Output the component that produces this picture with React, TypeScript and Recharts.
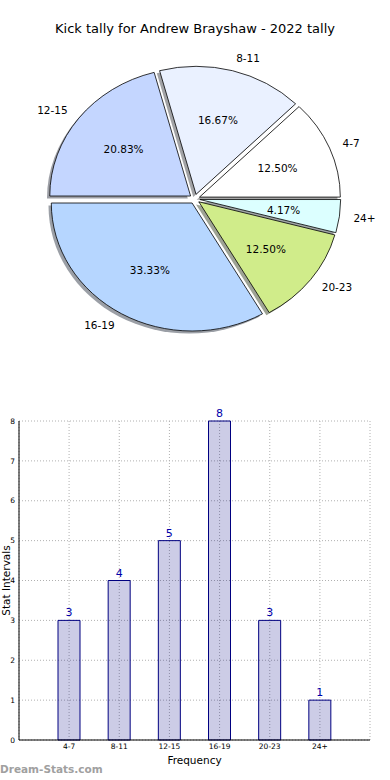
import { PieChart, Pie, Cell, BarChart, Bar, XAxis, YAxis, CartesianGrid, LabelList } from "recharts";

const categories = ["4-7", "8-11", "12-15", "16-19", "20-23", "24+"];
const kicks = [3, 4, 5, 8, 3, 1];
const sliceColors = ["#ffffff", "#eaf1ff", "#c4d6ff", "#b6d6ff", "#d0ec8a", "#dcffff"];
const yTicks = [0, 1, 2, 3, 4, 5, 6, 7, 8];

const data = categories.map((label, i) => ({ label, value: kicks[i] }));

const FONT = "DejaVu Sans, sans-serif";
const STRETCH = 1.1; // pie is drawn as an ellipse (axes not equal)
const EXPLODE = 0.037;
const RAD = Math.PI / 180;

function darken(hex: string, k: number) {
  const n = parseInt(hex.slice(1), 16);
  const r = Math.round(((n >> 16) & 255) * k);
  const g = Math.round(((n >> 8) & 255) * k);
  const b = Math.round((n & 255) * k);
  return `rgb(${r},${g},${b})`;
}

function wedgePath(p: any, dx = 0, dy = 0) {
  const { cx, cy, outerRadius, startAngle, endAngle } = p;
  const mid = (startAngle + endAngle) / 2;
  const rx = outerRadius * STRETCH;
  const ry = outerRadius;
  const e = EXPLODE * outerRadius;
  const ox = cx + e * STRETCH * Math.cos(mid * RAD) + dx;
  const oy = cy - e * Math.sin(mid * RAD) + dy;
  const x1 = ox + rx * Math.cos(startAngle * RAD);
  const y1 = oy - ry * Math.sin(startAngle * RAD);
  const x2 = ox + rx * Math.cos(endAngle * RAD);
  const y2 = oy - ry * Math.sin(endAngle * RAD);
  const large = Math.abs(endAngle - startAngle) > 180 ? 1 : 0;
  return `M${ox},${oy} L${x1},${y1} A${rx},${ry} 0 ${large} 0 ${x2},${y2} Z`;
}

const Wedge = (p: any) => <path d={wedgePath(p)} fill={p.fill} stroke="#000" strokeWidth={0.8} />;

const ShadowWedge = (p: any) => (
  <path d={wedgePath(p, -2.8, 2.6)} fill={darken(sliceColors[p.index] || p.fill, 0.3)} fillOpacity={0.5} stroke="none" />
);

const pieLabel = (p: any) => {
  const { cx, cy, midAngle, outerRadius, percent, index } = p;
  const e = EXPLODE * outerRadius;
  const c = Math.cos(midAngle * RAD);
  const s = Math.sin(midAngle * RAD);
  const ox = cx + e * STRETCH * c;
  const oy = cy - e * s;
  const lx = ox + 1.1 * outerRadius * STRETCH * c;
  const ly = oy - 1.1 * outerRadius * s;
  const px = ox + 0.6 * outerRadius * STRETCH * c;
  const py = oy - 0.6 * outerRadius * s;
  return (
    <g>
      <text x={lx} y={ly} textAnchor={c > 0 ? "start" : "end"} dominantBaseline="central" fontSize={10.5} fontFamily={FONT} fill="#000">
        {categories[index]}
      </text>
      <text x={px} y={py} textAnchor="middle" dominantBaseline="central" fontSize={10.5} fontFamily={FONT} fill="#000">
        {(percent * 100).toFixed(2)}%
      </text>
    </g>
  );
};

export default function App() {
  return (
    <div style={{ position: "absolute", left: 0, top: 0, width: 390, height: 780, background: "#fff", fontFamily: FONT }}>
      <div style={{ position: "absolute", left: 0, top: 21, width: 390, textAlign: "center", fontSize: 13, color: "#000" }}>
        Kick tally for Andrew Brayshaw - 2022 tally
      </div>

      <div style={{ position: "absolute", left: 0, top: 0 }}>
        <PieChart width={390} height={380} margin={{ top: 0, right: 0, bottom: 0, left: 0 }}>
          <Pie
            data={data}
            dataKey="value"
            nameKey="label"
            cx={194.7}
            cy={198.9}
            outerRadius={128}
            startAngle={0}
            endAngle={360}
            shape={ShadowWedge}
            isAnimationActive={false}
            stroke="none"
          >
            {data.map((d, i) => (
              <Cell key={d.label} fill={sliceColors[i]} />
            ))}
          </Pie>
          <Pie
            data={data}
            dataKey="value"
            nameKey="label"
            cx={194.7}
            cy={198.9}
            outerRadius={128}
            startAngle={0}
            endAngle={360}
            shape={Wedge}
            label={pieLabel}
            labelLine={false}
            isAnimationActive={false}
          >
            {data.map((d, i) => (
              <Cell key={d.label} fill={sliceColors[i]} />
            ))}
          </Pie>
        </PieChart>
      </div>

      <div style={{ position: "absolute", left: 0, top: 400 }}>
        <BarChart width={390} height={380} data={data} margin={{ top: 21, right: 20, bottom: 0, left: 0 }}>
          <CartesianGrid stroke="#b0b0b0" strokeDasharray="1 2" />
          <XAxis
            dataKey="label"
            padding={{ left: 25, right: 25 }}
            height={40}
            tickLine={false}
            tickSize={0}
            tickMargin={4}
            axisLine={{ stroke: "#000" }}
            tick={{ fontSize: 7.5, fontFamily: FONT, fill: "#000" }}
            interval={0}
            label={{
              content: (lp: any) => {
                const vb = lp.viewBox;
                return (
                  <text x={vb.x + vb.width / 2} y={vb.y + 20} textAnchor="middle" dominantBaseline="central" fontSize={10.5} fontFamily={FONT} fill="#000">
                    Frequency
                  </text>
                );
              },
            }}
          />
          <XAxis xAxisId="top" orientation="top" dataKey="label" height={0} tick={false} tickLine={false} axisLine={{ stroke: "#000" }} />
          <YAxis
            domain={[0, 8]}
            ticks={yTicks}
            width={19}
            tickLine={false}
            tickSize={0}
            tickMargin={4}
            axisLine={{ stroke: "#000" }}
            tick={{ fontSize: 7.5, fontFamily: FONT, fill: "#000" }}
            label={{
              content: (lp: any) => {
                const vb = lp.viewBox;
                const x = 6;
                const y = vb.y + vb.height / 2;
                return (
                  <text x={x} y={y} transform={`rotate(-90 ${x} ${y})`} textAnchor="middle" dominantBaseline="central" fontSize={10.5} fontFamily={FONT} fill="#000">
                    Stat Intervals
                  </text>
                );
              },
            }}
          />
          <YAxis yAxisId="right" orientation="right" domain={[0, 8]} width={0} tick={false} tickLine={false} axisLine={{ stroke: "#000" }} />
          <Bar dataKey="value" barSize={22} fill="#000080" fillOpacity={0.2} stroke="#000080" strokeWidth={1} isAnimationActive={false}>
            <LabelList dataKey="value" position="top" offset={4} fill="#0000aa" fontSize={11} fontFamily={FONT} />
          </Bar>
        </BarChart>
      </div>

      <div style={{ position: "absolute", left: 0, top: 763, fontSize: 10.5, fontWeight: "bold", color: "#a0a0a0", fontFamily: FONT }}>
        Dream-Stats.com
      </div>
    </div>
  );
}
